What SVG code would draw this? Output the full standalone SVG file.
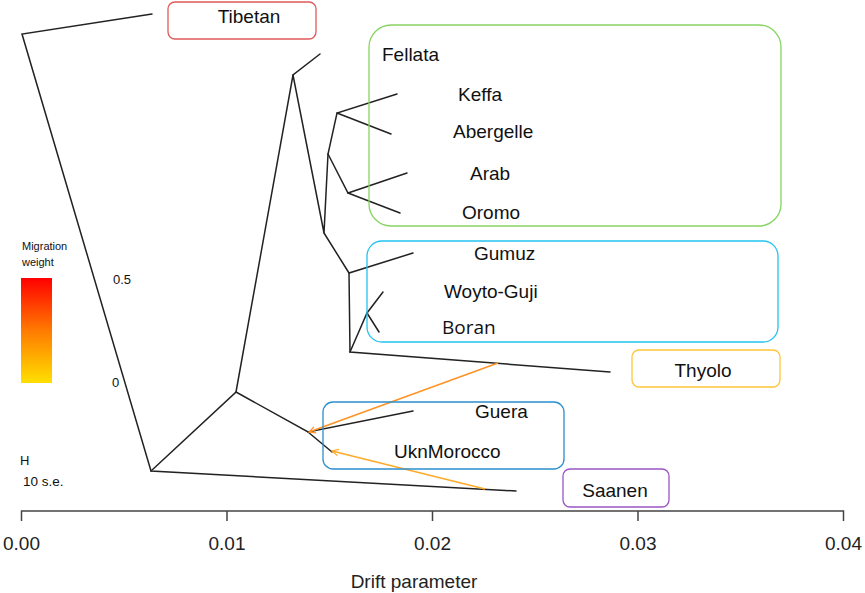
<svg xmlns="http://www.w3.org/2000/svg" width="865" height="593" viewBox="0 0 865 593">
<style>
text{font-family:"Liberation Sans",Arial,sans-serif;fill:#111}
.lbl{font-size:19px}
.tree{stroke:#222;stroke-width:1.5;fill:none;stroke-linecap:round}
.box{fill:none;stroke-width:1.3}
.axis{stroke:#444;stroke-width:1.5;fill:none}
.tick{font-size:19px;text-anchor:middle;fill:#222}
.mig{fill:none;stroke-width:1.6}
</style>
<defs>
<linearGradient id="grad" x1="0" y1="0" x2="0" y2="1">
<stop offset="0" stop-color="#ff0000"/>
<stop offset="0.5" stop-color="#ff7a00"/>
<stop offset="1" stop-color="#ffe000"/>
</linearGradient>
<marker id="ah1" viewBox="0 0 10 10" refX="9" refY="5" markerWidth="8" markerHeight="8" orient="auto" markerUnits="userSpaceOnUse">
<path d="M1,1 L9,5 L1,9" fill="none" stroke="#ff9326" stroke-width="1.5"/>
</marker>
<marker id="ah2" viewBox="0 0 10 10" refX="9" refY="5" markerWidth="8" markerHeight="8" orient="auto" markerUnits="userSpaceOnUse">
<path d="M1,1 L9,5 L1,9" fill="none" stroke="#ffa928" stroke-width="1.5"/>
</marker>
</defs>
<rect width="865" height="593" fill="#fff"/>

<g id="tree" class="tree">
<path d="M152,14 L22,34 L151,471 L516,491"/>
<path d="M151,471 L236,392 L293,75 L320,54"/>
<path d="M293,75 L324,233 L328,154 L337,113 L397,94"/>
<path d="M337,113 L391,134"/>
<path d="M328,154 L348,193 L407,173"/>
<path d="M348,193 L400,213"/>
<path d="M324,233 L349,273 L413,253"/>
<path d="M349,273 L350,352 L610,372"/>
<path d="M350,352 L367,313 L383,292"/>
<path d="M367,313 L379,332"/>
<path d="M236,392 L308,432 L413,411"/>
<path d="M308,432 L332,452"/>
</g>

<g id="migrations">
<path class="mig" stroke="#ff9326" d="M498,363 L309,432" marker-end="url(#ah1)"/>
<path class="mig" stroke="#ffa928" d="M485,489 L332,451" marker-end="url(#ah2)"/>
</g>

<g id="axis">
<path class="axis" d="M21.5,521 L21.5,511 L843.5,511 L843.5,521 M227,511 L227,521 M432.5,511 L432.5,521 M638,511 L638,521"/>
<text class="tick" x="21.5" y="550">0.00</text>
<text class="tick" x="227" y="550">0.01</text>
<text class="tick" x="432.5" y="550">0.02</text>
<text class="tick" x="638" y="550">0.03</text>
<text class="tick" x="843.5" y="550">0.04</text>
<text class="tick" x="414" y="588" font-size="20">Drift parameter</text>
</g>

<g id="legend">
<text x="22" y="250" font-size="11">Migration</text>
<text x="22" y="266" font-size="11">weight</text>
<rect x="21" y="278" width="31" height="105" fill="url(#grad)"/>
<text x="113" y="284" font-size="13">0.5</text>
<text x="112" y="387" font-size="13">0</text>
<text x="20" y="465" font-size="13">H</text>
<text x="23" y="486" font-size="13.5">10 s.e.</text>
</g>

<g id="node-tibetan">
<rect class="box" x="168" y="2" width="148" height="37" rx="7" stroke="#e05a5a"/>
<text class="lbl" x="249" y="23" text-anchor="middle" font-size="20">Tibetan</text>
</g>

<g id="node-green">
<rect class="box" x="369" y="25" width="412" height="201" rx="22" stroke="#86d462"/>
<text class="lbl" x="382" y="61">Fellata</text>
<text class="lbl" x="458" y="101">Keffa</text>
<text class="lbl" x="453" y="138">Abergelle</text>
<text class="lbl" x="470" y="180">Arab</text>
<text class="lbl" x="462" y="219">Oromo</text>
</g>

<g id="node-cyan">
<rect class="box" x="367" y="241" width="411" height="101" rx="15" stroke="#23c3f0"/>
<text class="lbl" x="474" y="260">Gumuz</text>
<text class="lbl" x="444" y="298">Woyto-Guji</text>
<text x="442" y="334" font-size="19" style="font-family:'Open Sans','Noto Sans',sans-serif">Boran</text>
</g>

<g id="node-thyolo">
<rect class="box" x="632" y="350" width="148" height="37" rx="7" stroke="#ffc53a"/>
<text class="lbl" x="703" y="377" text-anchor="middle">Thyolo</text>
</g>

<g id="node-blue">
<rect class="box" x="323" y="402" width="241" height="67" rx="10" stroke="#2b8fd0"/>
<text class="lbl" x="475" y="418">Guera</text>
<text class="lbl" x="394" y="458">UknMorocco</text>
</g>

<g id="node-saanen">
<rect class="box" x="563" y="469" width="106" height="38" rx="7" stroke="#9b55c4"/>
<text class="lbl" x="615" y="497" text-anchor="middle">Saanen</text>
</g>
</svg>
